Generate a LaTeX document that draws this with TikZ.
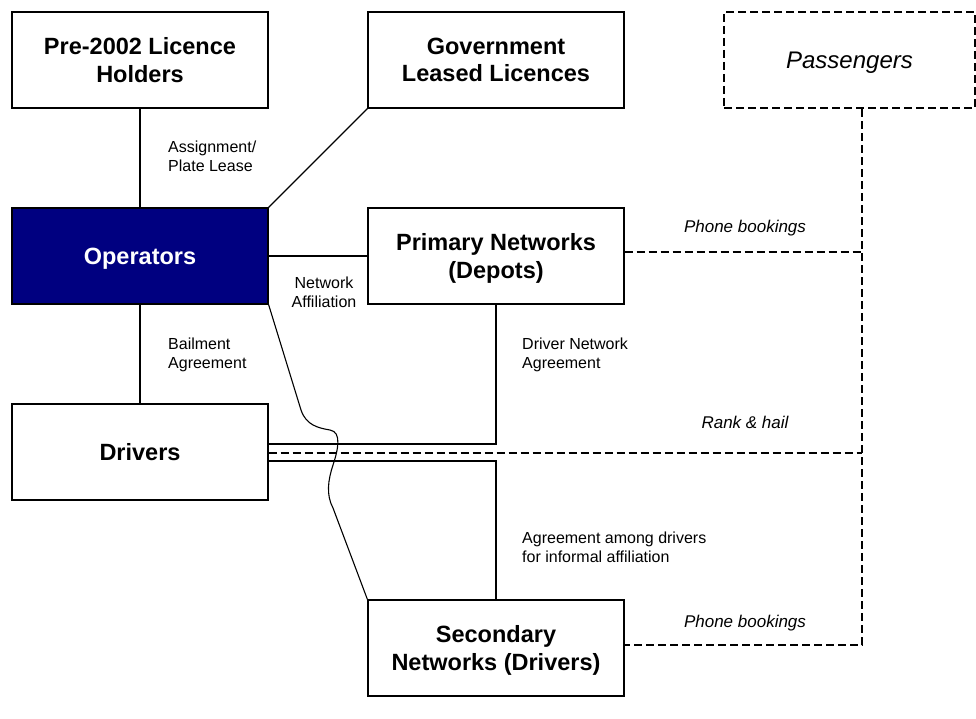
\documentclass[tikz,border=0pt]{standalone}
\usepackage{fontspec}
\setmainfont{Liberation Sans}
\usetikzlibrary{calc}
\definecolor{opblue}{RGB}{0,0,128}
\begin{document}
\begin{tikzpicture}[x=1pt,y=-1pt,
  box/.style={draw=black,line width=1.2pt,minimum width=256pt,minimum height=96pt,inner sep=0pt,text depth=0pt,align=center,font=\fontsize{23.5}{27.5}\selectfont\bfseries},
  dbox/.style={draw=black,line width=2.6pt,dash pattern=on 8pt off 4pt,minimum width=251pt,minimum height=96pt,inner sep=0pt,text depth=0pt,font=\fontsize{24}{28}\selectfont\itshape},
  conn/.style={line width=1.1pt},
  dconn/.style={line width=2.6pt,dash pattern=on 8pt off 4pt},
  lbl/.style={font=\fontsize{16}{19}\selectfont,align=left,inner sep=0pt},
  ilbl/.style={font=\fontsize{17}{20}\selectfont\itshape,inner sep=0pt}]
\useasboundingbox (0,0) rectangle (976,719);
\node[box] (pre) at (140,60) {Pre-2002 Licence\\Holders};
\node[box] (gov) at (496,60) {Government\\Leased Licences};
\node[dbox] (pass) at (849.5,60) {Passengers};
\node[box,fill=opblue,text=white] (op) at (140,256) {Operators};
\node[box] (prim) at (496,256) {Primary Networks\\(Depots)};
\node[box] (drv) at (140,452) {Drivers};
\node[box] (sec) at (496,648) {Secondary\\Networks (Drivers)};
\coordinate (pj) at ([xshift=12.5pt]pass.south);
\coordinate (pe) at ([yshift=4pt]prim.east);
\coordinate (se) at ([yshift=3pt]sec.east);
\coordinate (de) at ([yshift=-1pt]drv.east);
\coordinate (rk) at (pj |- de);
\coordinate (pb) at (pj |- se);
\coordinate (pt) at (pj |- pe);
% solid connectors
\draw[conn] (pre.south) -- (op.north);
\draw[conn] (op.north east) -- (gov.south west);
\draw[conn] (op.east) -- (prim.west);
\draw[conn] (op.south) -- (drv.north);
\draw[conn] (prim.south) |- ([yshift=8pt]drv.east);
\draw[conn] ([yshift=-9pt]drv.east) -| (sec.north);
\draw[conn] (op.south east) -- (301,410) .. controls (306,425) and (318,428) .. (330,430)
  .. controls (342,432) and (338,450) .. (333,465) .. controls (328,480) and (326,495) .. (333,508) -- (sec.north west);
% dashed connectors
\draw[dconn] (pj) -- (pb) -- (se);
\draw[dconn] (pe) -- (pt);
\draw[dconn] (de) -- (rk);
% labels
\node[lbl,anchor=base west] (l1) at (168,172) {Assignment/\\Plate Lease};
\node[lbl,anchor=base,align=center] (l2) at (324,307) {Network\\Affiliation};
\node[lbl,anchor=base west] (l3) at (168,368) {Bailment\\Agreement};
\node[lbl,anchor=base west] (l4) at (522,368) {Driver Network\\Agreement};
\node[lbl,anchor=base west] (l5) at (522,562) {Agreement among drivers\\for informal affiliation};
\node[ilbl,anchor=base] (l6) at (745,233) {Phone bookings};
\node[ilbl,anchor=base] (l7) at (745,428) {Rank \& hail};
\node[ilbl,anchor=base] (l8) at (745,627) {Phone bookings};
\end{tikzpicture}
\end{document}
